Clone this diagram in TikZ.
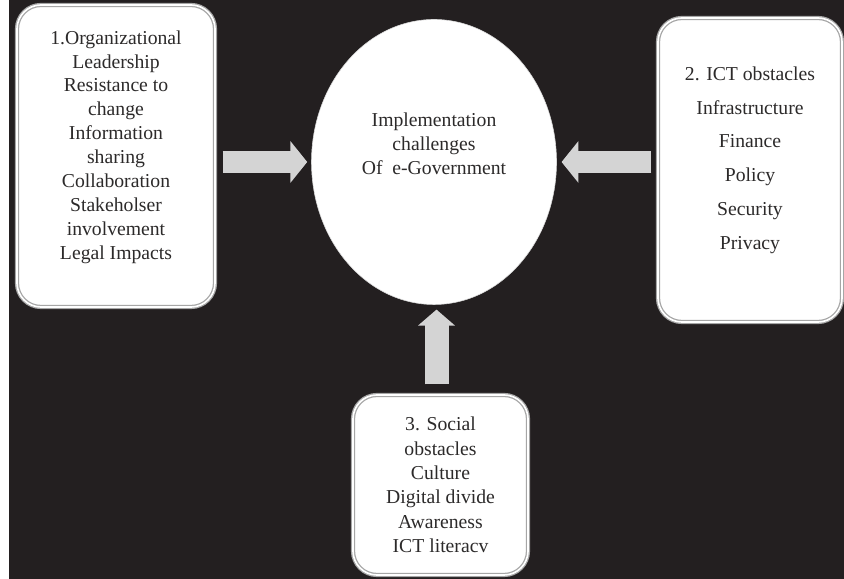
\documentclass[tikz,border=0pt]{standalone}
\usepackage{fontspec}
\setmainfont{Liberation Serif}
\usepackage{xcolor}
\usetikzlibrary{
    shapes.geometric,
    arrows.meta,
    positioning,
    calc
}
\definecolor{bgdark}{HTML}{231F20}
\definecolor{txtdark}{HTML}{2C2A2A}
\definecolor{arrowgray}{HTML}{D4D4D4}

\begin{document}
\begin{tikzpicture}[
    obsbox/.style={draw=gray!70, double=white, double distance=1.2pt, line width=0.9pt,
        fill=white, rounded corners=0.6cm},
    listtext/.style={align=center, text=txtdark, font=\fontsize{14}{17}\selectfont},
    hub/.style={ellipse, fill=white, draw=gray!30, minimum width=6.125cm, minimum height=7.125cm},
    bigarrow/.style={draw=arrowgray, line width=0.57cm, -{Triangle[length=0.42cm, width=1.02cm]}}
]
            % page and dark background
            \useasboundingbox (0,0) rectangle (21.1,14.475);
            \fill[white] (0,0) rectangle (21.1,14.475);
            \fill[bgdark] (0.225,0) rectangle (21.1,14.475);

            % centre
            \node[hub] (ell) at (10.85,10.425) {};
            \node[listtext] (elltxt) at ([yshift=0.45cm]ell.center)
                {Implementation\\challenges\\Of\ \ e-Government};

            % 1. organizational
            \node[obsbox, minimum width=4.95cm, minimum height=7.55cm] (org) at (2.9,10.575) {};
            \node[listtext] (orgtxt) at ([yshift=0.225cm]org.center)
                {1.Organizational\\Leadership\\Resistance to\\change\\Information\\sharing\\Collaboration\\Stakeholser\\involvement\\Legal Impacts};

            % 2. ICT
            \node[obsbox, minimum width=4.6cm, minimum height=7.6cm] (ict) at (18.75,10.225) {};
            \node[listtext, font=\fontsize{14}{24}\selectfont] (icttxt) at ([yshift=0.25cm]ict.center)
                {2. ICT obstacles\\Infrastructure\\Finance\\Policy\\Security\\Privacy};

            % 3. social
            \node[obsbox, minimum width=4.375cm, minimum height=4.5cm] (soc) at (11.0125,2.35) {};
            \node[listtext, font=\fontsize{14}{17.3}\selectfont] (soctxt) at (soc.center)
                {3. Social\\obstacles\\Culture\\Digital divide\\Awareness\\ICT literacv};

            % arrows into the centre
            \draw[bigarrow, shorten <=0.175cm, shorten >=0.1cm] (org.east |- ell.west) -- (ell.west);
            \draw[bigarrow, shorten <=0.15cm, shorten >=0.12cm] (ict.west |- ell.east) -- (ell.east);
            \draw[bigarrow, line width=0.6cm, -{Triangle[length=0.4cm, width=0.9cm]}, shorten <=0.25cm, shorten >=0.12cm]
                ([xshift=-0.1cm]soc.north) -- ([xshift=-0.1cm]soc.north |- ell.south);
\end{tikzpicture}
\end{document}
